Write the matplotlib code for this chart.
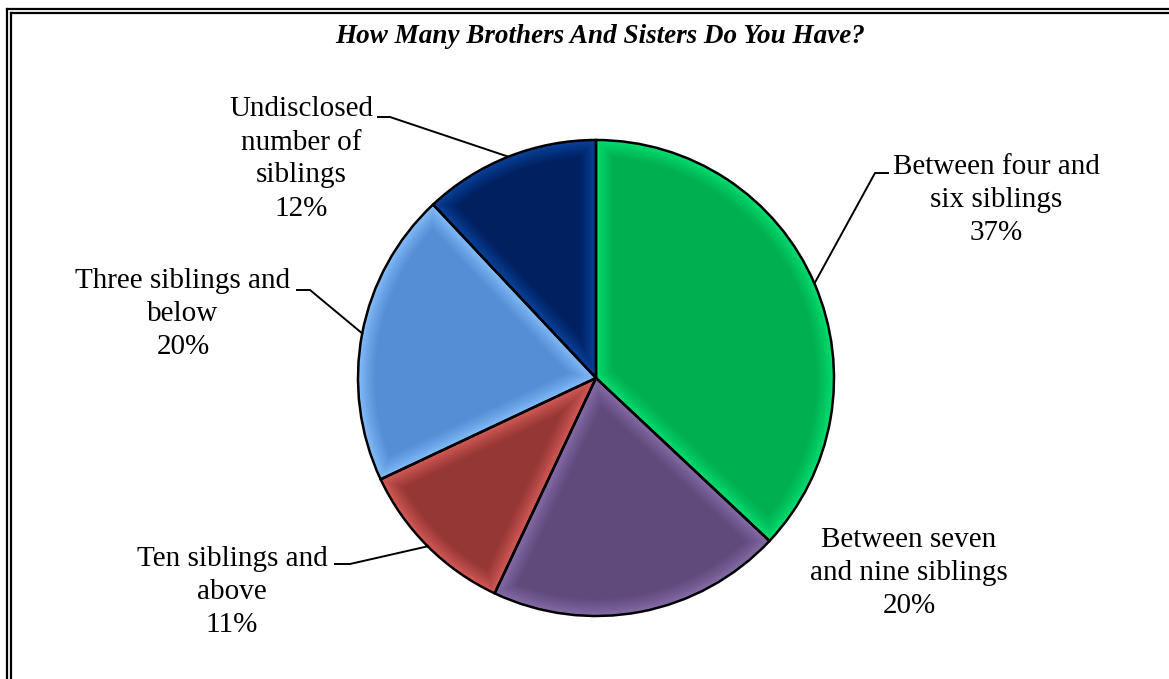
import numpy as np
import matplotlib.pyplot as plt
from matplotlib.colors import to_rgb
from matplotlib.lines import Line2D

# survey answers, clockwise from 12 o'clock
groups = ["Between four and\nsix siblings",
          "Between seven\nand nine siblings",
          "Ten siblings and\nabove",
          "Three siblings and\nbelow",
          "Undisclosed\nnumber of\nsiblings"]
shares = [37, 20, 11, 20, 12]

# body colour and lighter rim colour of each slice
body = ["#00B050", "#604A7B", "#953735", "#558ED5", "#002060"]
rim = ["#00E676", "#8C72B0", "#E0605C", "#8CC4FF", "#0A48A8"]

W, H = 1169, 679
plt.rcParams["font.family"] = ["Liberation Serif", "DejaVu Serif"]

fig = plt.figure(figsize=(W / 100, H / 100), dpi=100)
ax = fig.add_axes([0, 0, 1, 1])

cx, cy, R = 596, H - 378, 238
wedges, _ = ax.pie(shares, startangle=90, counterclock=False,
                   center=(cx, cy), radius=R,
                   wedgeprops=dict(facecolor="none", edgecolor="black",
                                   linewidth=1.8, zorder=3))

# shaded fill: lighter near the slice borders, darker inside
xs = np.arange(cx - R, cx + R) + 0.5
ys = np.arange(cy - R, cy + R) + 0.5
gx, gy = np.meshgrid(xs, ys)
rr = np.hypot(gx - cx, gy - cy)
th = np.degrees(np.arctan2(gy - cy, gx - cx))
band = 18.0
for w, c_in, c_out in zip(wedges, body, rim):
    t1, t2 = w.theta1, w.theta2
    d1 = (th - t1) % 360
    d2 = (t2 - th) % 360
    e1 = np.where(d1 < 90, rr * np.sin(np.radians(np.minimum(d1, 89.9))), rr)
    e2 = np.where(d2 < 90, rr * np.sin(np.radians(np.minimum(d2, 89.9))), rr)
    dist = np.minimum(np.minimum(e1, e2), R - rr)
    k = np.clip(dist / band, 0, 1) ** 0.7
    a, b = np.array(to_rgb(c_out)), np.array(to_rgb(c_in))
    img = a + (b - a) * k[..., None]
    im = ax.imshow(img, extent=(cx - R, cx + R, cy - R, cy + R),
                   origin="lower", interpolation="bilinear", zorder=2)
    im.set_clip_path(w)

ax.set_xlim(0, W)
ax.set_ylim(0, H)
ax.set_aspect("equal")
ax.axis("off")

# label blocks (centre of text) and the elbow where a leader starts
label_xy = [(996, 200), (909, 573), (232, 592), (183, 314), (301, 159)]
elbows = [((888, 173), (875, 173)), None, ((335, 564), (350, 564)),
          ((297, 290), (310, 290)), ((378, 117), (390, 117))]

for w, name, pct, (lx, ly), elb in zip(wedges, groups, shares, label_xy, elbows):
    ax.text(lx, H - ly, f"{name}\n{pct}%", ha="center", va="center",
            fontsize=21, linespacing=1.35, zorder=5)
    if elb is None:
        continue
    mid = np.radians((w.theta1 + w.theta2) / 2)
    px, py = cx + R * np.cos(mid), cy + R * np.sin(mid)
    (ax0, ay0), (ax1, ay1) = elb
    ax.plot([ax0, ax1, px], [H - ay0, H - ay1, py], color="black",
            lw=1.4, solid_joinstyle="miter", zorder=4)

fig.text(600 / W, 1 - 43 / H, "How Many Brothers And Sisters Do You Have?",
         ha="center", va="baseline", fontsize=19.5, fontweight="bold",
         fontstyle="italic")

# double frame line along the top and left
for off in (0, 4):
    x0, y0 = 7 + off, 9 + off
    fig.add_artist(Line2D([x0 / W, 1], [1 - y0 / H, 1 - y0 / H],
                          transform=fig.transFigure, color="black", lw=1.6))
    fig.add_artist(Line2D([x0 / W, x0 / W], [1 - y0 / H, 0],
                          transform=fig.transFigure, color="black", lw=1.6))

fig.savefig("out.png", dpi=100)
